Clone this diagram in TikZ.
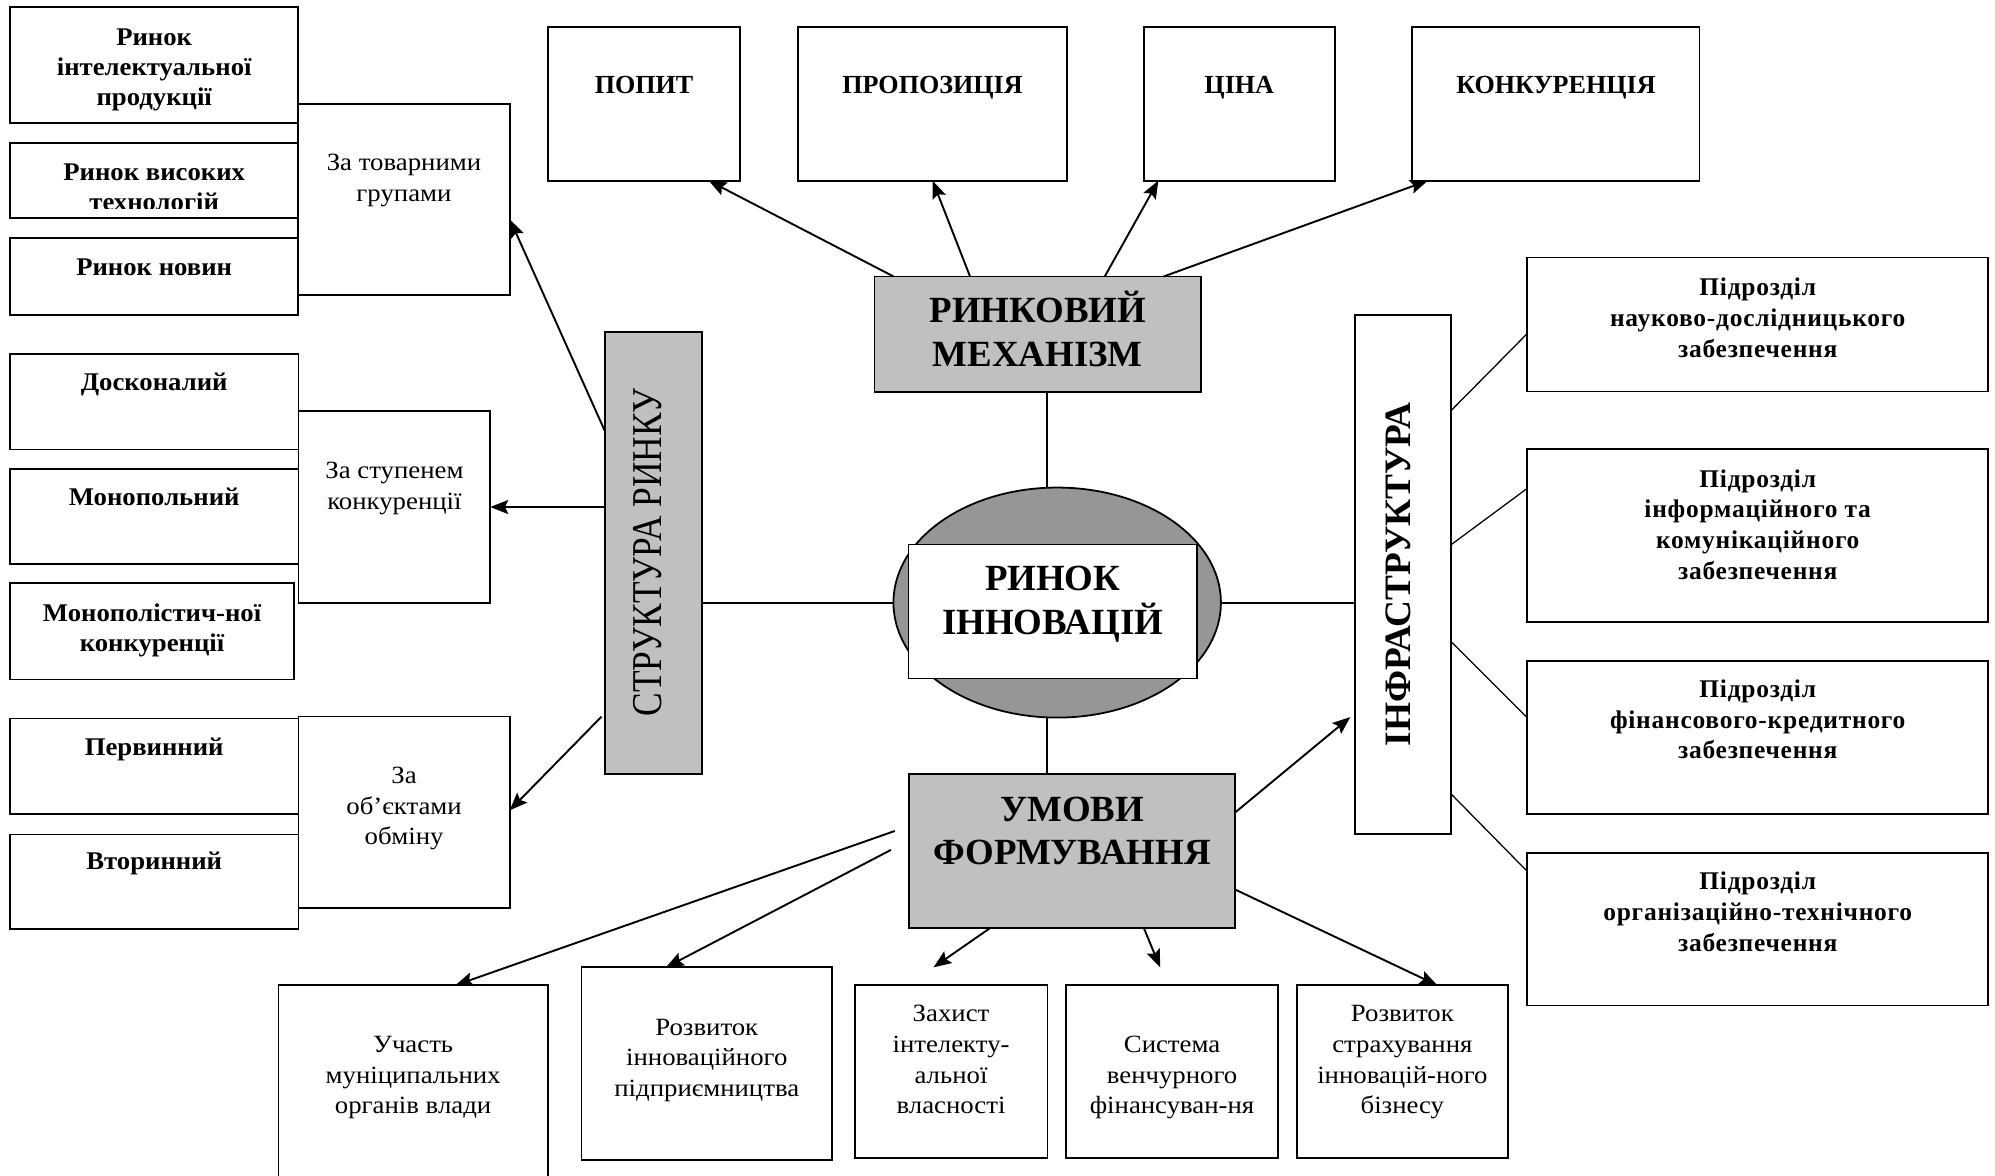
\documentclass[tikz,border=0pt]{standalone}
\usepackage{fontspec}
\usepackage{graphicx}
\setmainfont{Liberation Serif}
\newfontfamily\rgfont[FakeStretch=1.08]{Liberation Serif}
\newfontfamily\lbfont[FakeStretch=1.05]{Liberation Serif}
\usetikzlibrary{arrows.meta,calc,shapes.geometric}
\definecolor{boxgray}{HTML}{C0C0C0}
\definecolor{ellgray}{HTML}{969696}
\newcommand{\fl}{\rule{0pt}{20pt}}
\newcommand{\FL}{\rule{0pt}{30pt}}
\tikzset{
 box/.style={draw, line width=1.4pt, fill=white, anchor=north west, inner sep=0pt, outer sep=0pt},
 gbox/.style={box, fill=boxgray},
 lb/.style={anchor=north, inner sep=0pt, align=center, font=\lbfont\fontsize{20}{23.8}\selectfont\bfseries},
 tb/.style={anchor=north, inner sep=0pt, align=center, font=\fontsize{20.5}{24}\selectfont\bfseries},
 rb/.style={anchor=north, inner sep=0pt, align=center, font=\fontsize{20}{24.2}\selectfont\bfseries\addfontfeature{LetterSpace=3}},
 rg/.style={anchor=north, inner sep=0pt, align=center, font=\rgfont\fontsize{19.5}{24}\selectfont},
 big/.style={anchor=north, inner sep=0pt, align=center, font=\fontsize{29}{34}\selectfont\bfseries},
 con/.style={line width=1.5pt},
 thinline/.style={line width=1pt},
 arr/.style={con, -{Stealth[length=14pt,width=11pt,inset=2.5pt]}}
}
\begin{document}
\begin{tikzpicture}[x=1pt,y=-1pt]
\useasboundingbox (0,0) rectangle (1568,924);
\fill[white] (0,0) rectangle (1568,924);
% ---------- left column ----------
\node[box, minimum width=226.5pt, minimum height=90.6pt] (b1) at (7.9,5.8) {};
\node[box, minimum width=226.5pt, minimum height=59.5pt] (b2) at (7.9,112.1) {};
\node[box, minimum width=226.5pt, minimum height=60.3pt] (b3) at (7.9,187.3) {};
\node[box, minimum width=166.5pt, minimum height=150.2pt] (g1) at (234.4,81.7) {};
\node[box, minimum width=226.7pt, minimum height=75.2pt] (b4) at (7.9,278) {};
\node[box, minimum width=226.7pt, minimum height=74.9pt] (b5) at (7.9,368.6) {};
\node[box, minimum width=223.1pt, minimum height=75.5pt] (b6) at (7.9,458.5) {};
\node[box, minimum width=150.8pt, minimum height=150.6pt] (g2) at (234.6,323.2) {};
\node[box, minimum width=226.7pt, minimum height=75.2pt] (b7) at (7.9,564.7) {};
\node[box, minimum width=226.7pt, minimum height=74.3pt] (b8) at (7.9,655.8) {};
\node[box, minimum width=166pt, minimum height=150.3pt] (g3) at (234.6,563.2) {};

\node[lb] (tb1) at (121.2,15.4) {\fl Ринок\\інтелектуальної\\продукції};
\begin{scope}
\clip (b2.north west) rectangle ($(b2.south east)+(0,-8)$);
\node[lb] (tb2) at (121.2,121.5) {\fl Ринок високих\\технологій};
\end{scope}
\node[lb] (tb3) at (121.2,196.1) {\fl Ринок новин};
\node[rg] (tg1) at (317.5,114.1) {\fl За товарними\\групами};
\node[lb] (tb4) at (121.2,286.9) {\fl Досконалий};
\node[lb] (tb5) at (121.2,377.1) {\fl Монопольний};
\node[lb] (tb6) at (119.5,468) {\fl Монополістич-ної\\конкуренції};
\node[rg] (tg2) at (310,356.1) {\fl За ступенем\\конкуренції};
\node[lb] (tb7) at (121.2,573.2) {\fl Первинний};
\node[lb] (tb8) at (121.2,663.5) {\fl Вторинний};
\node[rg] (tg3) at (317.6,595.8) {\fl За\\об’єктами\\обміну};

% ---------- structure ----------
\node[gbox, minimum width=76pt, minimum height=347.6pt] (struct) at (475.5,261) {};
\node[rotate=90, inner sep=0pt, font=\fontsize{27.8}{30}\selectfont] (tstruct) at (509,434.3) {\scalebox{1}[1.2]{СТРУКТУРА РИНКУ}};

% ---------- top ----------
\node[box, minimum width=151.3pt, minimum height=121pt] (popyt) at (430.5,21) {};
\node[box, minimum width=212pt, minimum height=121pt] (prop) at (626.9,21) {};
\node[box, minimum width=150pt, minimum height=121pt] (tsina) at (899,21) {};
\node[box, minimum width=225.7pt, minimum height=121pt] (konk) at (1110,21) {};
\node[tb] (tpopyt) at (506.2,53.6) {\fl ПОПИТ};
\node[tb] (tprop) at (732.9,53.6) {\fl ПРОПОЗИЦІЯ};
\node[tb] (ttsina) at (974,53.6) {\fl ЦІНА};
\node[tb] (tkonk) at (1222.9,53.6) {\fl КОНКУРЕНЦІЯ};

\node[gbox, minimum width=256.3pt, minimum height=90.5pt] (rm) at (687.4,217.3) {};
\node[big] (trm) at (815.6,223.6) {\FL РИНКОВИЙ\\МЕХАНІЗМ};

% ---------- centre ----------
\node[ellipse, draw, line width=1.4pt, fill=ellgray, minimum width=257.4pt, minimum height=180.8pt, inner sep=0pt, outer sep=0pt] (ell) at (830.9,473.6) {};
\node[box, minimum width=226.7pt, minimum height=105.3pt] (inner) at (714,427.9) {};
\node[big] (tinner) at (827.4,434.1) {\FL РИНОК\\ІННОВАЦІЙ};

\node[gbox, minimum width=255.8pt, minimum height=121pt] (umovy) at (714.7,608.6) {};
\node[big] (tumovy) at (842.6,615.2) {\FL УМОВИ\\ФОРМУВАННЯ};

% ---------- infrastructure ----------
\node[box, minimum width=75.7pt, minimum height=407.7pt] (infra) at (1064.7,247.5) {};
\node[rotate=90, inner sep=0pt, font=\fontsize{29.3}{32}\selectfont\bfseries] (tinfra) at (1098.7,451.4) {ІНФРАСТРУКТУРА};

\node[box, minimum width=362.3pt, minimum height=105.4pt] (r1) at (1200.4,202.3) {};
\node[box, minimum width=362.3pt, minimum height=135.9pt] (r2) at (1200.4,352.9) {};
\node[box, minimum width=362.3pt, minimum height=120pt] (r3) at (1200.4,519.7) {};
\node[box, minimum width=362.3pt, minimum height=119.7pt] (r4) at (1200.4,670.6) {};
\node[rb] (tr1) at (1381.5,212) {\fl Підрозділ\\науково-дослідницького\\забезпечення};
\node[rb] (tr2) at (1381.5,362.6) {\fl Підрозділ\\інформаційного та\\комунікаційного\\забезпечення};
\node[rb] (tr3) at (1381.5,527.8) {\fl Підрозділ\\фінансового-кредитного\\забезпечення};
\node[rb] (tr4) at (1381.5,679.2) {\fl Підрозділ\\організаційно-технічного\\забезпечення};

% ---------- bottom ----------
\node[box, minimum width=211.6pt, minimum height=160pt] (u1) at (218.9,774.4) {};
\node[box, minimum width=197.1pt, minimum height=151.4pt] (u2) at (457,760.3) {};
\node[box, minimum width=151.5pt, minimum height=136pt] (u3) at (671.8,774.4) {};
\node[box, minimum width=166.7pt, minimum height=136pt] (u4) at (837.9,774.4) {};
\node[box, minimum width=166.2pt, minimum height=136pt] (u5) at (1019.1,774.4) {};
\node[rg] (tu1) at (324.7,807.3) {\fl Участь\\муніципальних\\органів влади};
\node[rg] (tu2) at (555.5,793.4) {\fl Розвиток\\інноваційного\\підприємництва};
\node[rg] (tu3) at (747.5,783) {\fl Захист\\інтелекту-\\альної\\власності};
\node[rg] (tu4) at (921.2,807.3) {\fl Система\\венчурного\\фінансуван-ня};
\node[rg] (tu5) at (1102.2,783) {\fl Розвиток\\страхування\\інновацій-ного\\бізнесу};

% ---------- connectors ----------
\draw[arr] ($(struct.north west)+(0,78)$) -- ($(g1.north east)+(0,91)$);
\draw[arr] (struct.west |- g2.east) -- (g2.east);
\draw[arr] ($(struct.south west)+(-2.7,-45.4)$) -- ($(g3.north east)+(0,73.7)$);
\draw[con] (ell.west) -- (ell.west -| struct.east);

\draw[arr] ($(rm.north west)+(14.9,0)$) -- ($(popyt.south west)+(126.5,0)$);
\draw[arr] ($(rm.north west)+(75,0)$) -- ($(prop.south west)+(106.1,0)$);
\draw[arr] ($(rm.north west)+(180.9,0)$) -- ($(tsina.south west)+(11.4,0)$);
\draw[arr] ($(rm.north west)+(227.2,0)$) -- ($(konk.south west)+(12.2,0)$);

\coordinate (rmb) at ($(rm.south west)+(135.6,0)$);
\draw[thinline] (rmb) -- (rmb |- ell.north);
\coordinate (umt) at ($(umovy.north west)+(108.3,0)$);
\draw[thinline] (umt) -- (umt |- ell.south);
\draw[con] (ell.east) -- (ell.east -| infra.west);

\draw[arr] ($(umovy.north east)+(0,30.2)$) -- ($(infra.south west)+(-3.4,-91.6)$);

\draw[thinline] ($(infra.north east)+(0,75.3)$) -- ($(r1.north west)+(0,59.8)$);
\draw[thinline] ($(infra.north east)+(0,180.7)$) -- ($(r2.north west)+(0,30.9)$);
\draw[thinline] ($(infra.north east)+(0,256.7)$) -- ($(r3.north west)+(0,44.4)$);
\draw[thinline] ($(infra.north east)+(0,376.4)$) -- ($(r4.north west)+(0,14.3)$);

\coordinate (e3) at ($(u3.north west)+(61.9,-14.1)$);
\coordinate (e4) at ($(u4.north west)+(73.9,-14.1)$);
\draw[arr] ($(umovy.north west)+(-11.4,44.5)$) -- ($(u1.north west)+(139,0)$);
\draw[arr] ($(umovy.north west)+(-14.5,59.4)$) -- ($(u2.north west)+(66.4,0)$);
\draw[arr] ($(umovy.south west)+(63.2,0)$) -- (e3);
\draw[arr] ($(umovy.south west)+(184.4,0)$) -- (e4);
\draw[arr] ($(umovy.south east)+(0,-30.6)$) -- ($(u5.north west)+(110.6,0)$);
\end{tikzpicture}
\end{document}
